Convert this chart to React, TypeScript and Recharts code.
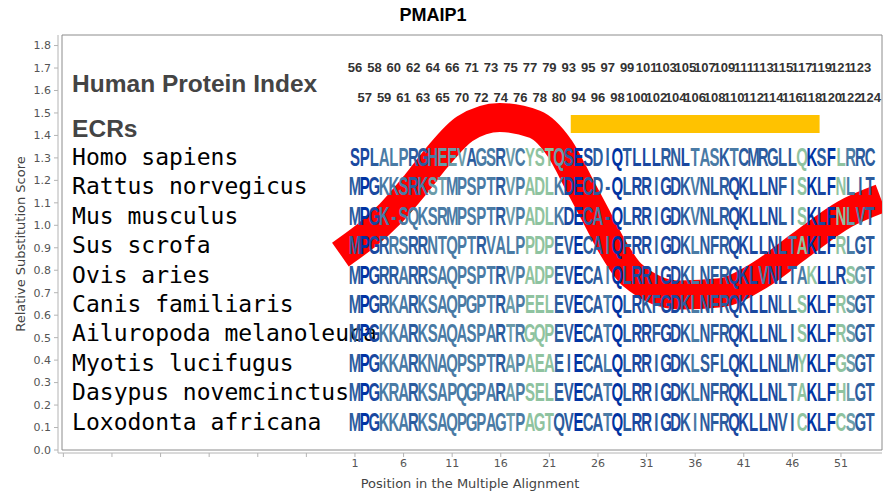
import React from 'react';
import { ComposedChart, XAxis, YAxis, Line, Scatter, ReferenceArea } from 'recharts';

// Species shown in the alignment, top to bottom
const species = [
  'Homo sapiens',
  'Rattus norvegicus',
  'Mus musculus',
  'Sus scrofa',
  'Ovis aries',
  'Canis familiaris',
  'Ailuropoda melanoleuca',
  'Myotis lucifugus',
  'Dasypus novemcinctus',
  'Loxodonta africana',
];

// Score-axis level at which each species row is written
const speciesRowY = [1.305, 1.174, 1.043, 0.912, 0.781, 0.65, 0.519, 0.388, 0.257, 0.126];

// Aligned residues, one character per alignment column (columns 1..54)
const alignment = [
  'SPLALPRGHEEVAGSRVCYSTQSESDIQTLLLRNLTASKTCMRGLLQKSFLRRC',
  'MPGKKSRKSTMPSPTRVPADLKDECD-QLRRIGDKVNLRQKLLNFISKLFNLIT',
  'MPGK-SQKSRMPSPTRVPADLKDECA-QLRRIGDKVNLRQKLLNLISKLFNLVT',
  'MPGRRSRRNTQPTRVALPPDPEVECAIQFRRIGDKLNFRQKLLNLTAKLFRLGT',
  'MPGRRARRSAQPSPTRVPADPEVECAIQLRRIGDKLNFRQKLVNLTAKLLRSGT',
  'MPGRKARKSAQPGPTRAPEELEVECATQLRKFGDKLNFRQKLLNLLSKLFRSGT',
  'MPGKKARKSAQASPARTRGQPEVECATQLRRFGDKLNFRQKLLNLISKLFRSGT',
  'MPGKKARKNAQPSPTRAPAEAEIECALQLRRIGDKLSFLQKLLNLMYKLFGSGT',
  'MPGKRARKSAPQGPARAPSELEVECATQLRRIGDKLNFRQKLLNLTAKLFHLGT',
  'MPGKKARKSAQPGPAGTPAGTQVECATQLRRIGDKINFRQKLLNVICKLFCSGT',
];

// Conservation shade of each residue (0 = most conserved ... 5 = least)
const conservation = [
  '112333223444233243555420122021112213332322222250205322',
  '201333234433333243555310222021121123222111112250105322',
  '201333333333333243555310232021121123222111112250105432',
  '201233223333323333555220223021121123222111112350105322',
  '201223223333333243555220223021121123222111311235011542',
  '201233233333333243555220223021221123222111112250105422',
  '201333233333333243555220223021121123222111112250105422',
  '201333233333333243555220223021121123222111112250105422',
  '201333233333333243555220223021121123222111112350105422',
  '201333233333333343555220223021121123222111112250105422',
];

const shadePalette = ['#0033a3', '#1a48a0', '#2c5c9e', '#4a7ba5', '#6b9caa', '#8fc3a0'];

// Human protein index above each alignment column (odd columns upper, even columns lower)
const upperIndexLabels = [56, 58, 60, 62, 64, 66, 71, 73, 75, 77, 79, 93, 95, 97, 99, 101, 103, 105, 107, 109, 111, 113, 115, 117, 119, 121, 123];
const lowerIndexLabels = [57, 59, 61, 63, 65, 70, 72, 74, 76, 78, 80, 94, 96, 98, 100, 102, 104, 106, 108, 110, 112, 114, 116, 118, 120, 122, 124];
const upperIndexY = 1.705;
const lowerIndexY = 1.571;

// Relative substitution score along the alignment
const curvePos = [-0.5, 4.6, 7.2, 9.4, 12.3, 15.9, 19.5, 22.1, 24.1, 25.7, 27.4, 29.5, 34.4, 38.6, 42.7, 46.8, 51.4, 55.1];
const curveScore = [0.87, 1.05, 1.18, 1.3, 1.43, 1.48, 1.45, 1.34, 1.18, 1.05, 0.91, 0.78, 0.69, 0.7, 0.78, 0.91, 1.05, 1.12];

// Evolutionarily conserved region
const ecrStart = 23.2;
const ecrEnd = 48.8;
const ecrLow = 1.411;
const ecrHigh = 1.491;

// Axis setup
const xDomain: [number, number] = [-29.14, 55.22];
const yDomain: [number, number] = [0, 1.847];
const xTicks = [-29, -24, -19, -14, -9, -4, 1, 6, 11, 16, 21, 26, 31, 36, 41, 46, 51];
const yTicks = [0, 0.1, 0.2, 0.3, 0.4, 0.5, 0.6, 0.7, 0.8, 0.9, 1.0, 1.1, 1.2, 1.3, 1.4, 1.5, 1.6, 1.7, 1.8];

const labelX = -28.1;
const headingLabels = [
  { x: labelX, y: 1.633, text: 'Human Protein Index' },
  { x: labelX, y: 1.433, text: 'ECRs' },
];

const curveData = curvePos.map((x, i) => ({ x, y: curveScore[i] }));

const speciesData = species.map((name, i) => ({ x: labelX, y: speciesRowY[i], text: name }));

const indexData = [
  ...upperIndexLabels.map((n, i) => ({ x: 1 + i * 2, y: upperIndexY, text: String(n) })),
  ...lowerIndexLabels.map((n, i) => ({ x: 2 + i * 2, y: lowerIndexY, text: String(n) })),
];

const residueData = alignment.flatMap((seq, r) =>
  seq.split('').map((ch, j) => ({
    x: j + 1,
    y: speciesRowY[r],
    ch,
    color: shadePalette[Number(conservation[r][j])],
  }))
);

const sans = 'Liberation Sans, Arial, sans-serif';

const ResidueGlyph = (props: any) => {
  const { cx, cy, payload } = props;
  return (
    <text
      transform={`translate(${cx},${cy + 9}) scale(0.6,1)`}
      textAnchor="middle"
      fontSize={25}
      fontWeight={700}
      fontFamily={sans}
      fill={payload.color}
    >
      {payload.ch}
    </text>
  );
};

const SpeciesName = (props: any) => {
  const { cx, cy, payload } = props;
  return (
    <text x={cx} y={cy + 8} fontSize={23} fontFamily="DejaVu Sans Mono, monospace" fill="#000">
      {payload.text}
    </text>
  );
};

const HeadingText = (props: any) => {
  const { cx, cy, payload } = props;
  return (
    <text x={cx} y={cy + 8.8} fontSize={24.5} fontWeight={700} fontFamily={sans} fill="#444">
      {payload.text}
    </text>
  );
};

const IndexText = (props: any) => {
  const { cx, cy, payload } = props;
  return (
    <text x={cx} y={cy + 4.6} textAnchor="middle" fontSize={13} fontWeight={700} fontFamily={sans} fill="#333">
      {payload.text}
    </text>
  );
};

export default function App() {
  return (
    <div style={{ position: 'absolute', left: 0, top: 0, width: 893, height: 500, background: '#fff' }}>
      <div
        style={{
          position: 'absolute',
          left: 333,
          top: 4,
          width: 200,
          textAlign: 'center',
          fontFamily: sans,
          fontWeight: 700,
          fontSize: 18,
          lineHeight: '22px',
          color: '#000',
        }}
      >
        PMAIP1
      </div>
      <ComposedChart width={893} height={500} margin={{ top: 35, right: 11, bottom: 3, left: 0 }}>
        <XAxis
          type="number"
          dataKey="x"
          domain={xDomain}
          ticks={xTicks}
          allowDataOverflow
          padding={{ left: 4, right: 0 }}
          tickFormatter={(v: number) => (v > 0 ? String(v) : '')}
          axisLine={{ stroke: '#b4b4b4' }}
          tickLine={{ stroke: '#b4b4b4' }}
          tickSize={4}
          tickMargin={2}
          tick={{ fontSize: 11, fill: '#555', fontFamily: 'DejaVu Sans, sans-serif' }}
          height={44}
          label={{
            value: 'Position in the Multiple Alignment',
            position: 'center',
            dy: 8,
            fontSize: 13,
            fill: '#444',
            fontFamily: 'DejaVu Sans, sans-serif',
          }}
        />
        <YAxis
          type="number"
          dataKey="y"
          domain={yDomain}
          ticks={yTicks}
          allowDataOverflow
          padding={{ top: 0, bottom: 3 }}
          width={58}
          tickFormatter={(v: number) => v.toFixed(1)}
          axisLine={{ stroke: '#b4b4b4' }}
          tickLine={{ stroke: '#b4b4b4' }}
          tickSize={4}
          tickMargin={3}
          tick={{ fontSize: 11, fill: '#555', fontFamily: 'DejaVu Sans, sans-serif' }}
          label={{
            value: 'Relative Substitution Score',
            angle: -90,
            position: 'center',
            dx: -9,
            fontSize: 13,
            fill: '#444',
            fontFamily: 'DejaVu Sans, sans-serif',
          }}
        />
        <ReferenceArea
          x1={xDomain[0]}
          x2={xDomain[1]}
          y1={yDomain[0]}
          y2={yDomain[1]}
          fill="none"
          stroke="#8c8c8c"
          strokeWidth={1}
          ifOverflow="visible"
        />
        <ReferenceArea
          x1={ecrStart}
          x2={ecrEnd}
          y1={ecrLow}
          y2={ecrHigh}
          fill="#ffc200"
          fillOpacity={1}
          stroke="none"
        />
        <Line
          data={curveData}
          dataKey="y"
          type="monotone"
          stroke="#ff0000"
          strokeWidth={29}
          strokeLinecap="butt"
          strokeLinejoin="round"
          dot={false}
          activeDot={false}
          isAnimationActive={false}
        />
        <Scatter data={headingLabels} dataKey="y" shape={HeadingText} isAnimationActive={false} />
        <Scatter data={indexData} dataKey="y" shape={IndexText} isAnimationActive={false} />
        <Scatter data={speciesData} dataKey="y" shape={SpeciesName} isAnimationActive={false} />
        <Scatter data={residueData} dataKey="y" shape={ResidueGlyph} isAnimationActive={false} />
      </ComposedChart>
    </div>
  );
}
